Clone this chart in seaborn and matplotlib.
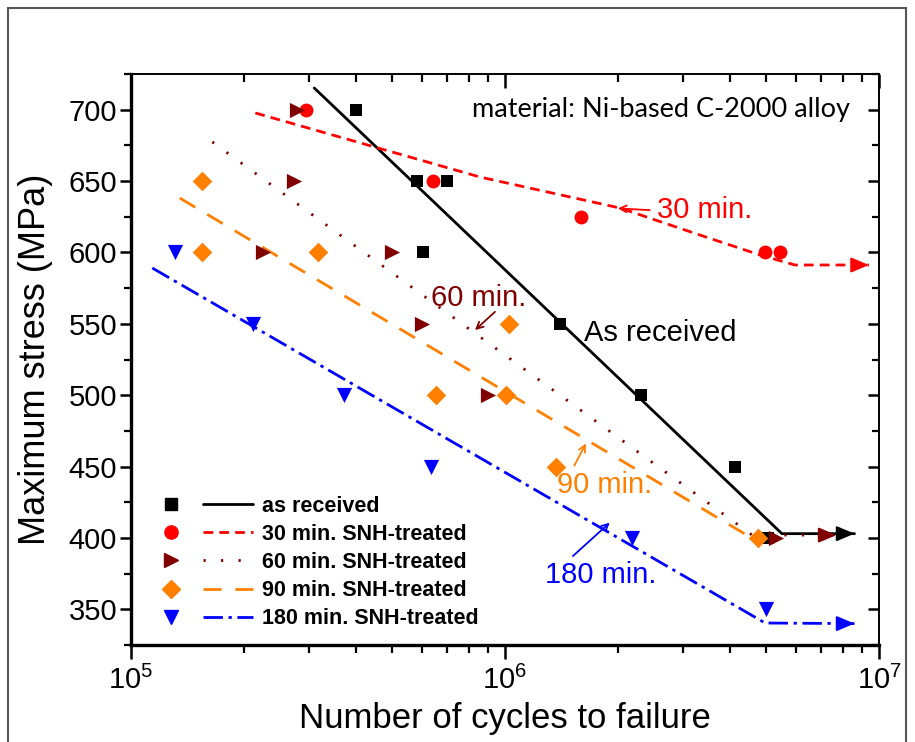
import matplotlib
matplotlib.use("Agg")
import matplotlib.pyplot as plt
from matplotlib.lines import Line2D
from matplotlib.legend_handler import HandlerBase
from matplotlib.patches import Rectangle
from matplotlib.ticker import MultipleLocator, LogLocator, NullFormatter
import seaborn as sns

# ---- fatigue test results (cycles to failure, maximum stress in MPa) ----
asr_n = [4.00e5, 5.82e5, 7.00e5, 6.04e5, 1.40e6, 2.31e6, 4.12e6, 5.05e6]
asr_s = [700, 650, 650, 600, 550, 500, 450, 400]

m30_n = [2.94e5, 6.41e5, 1.60e6, 4.96e6, 5.44e6]
m30_s = [700, 650, 625, 600, 600]

m60_n = [2.78e5, 2.73e5, 2.25e5, 4.99e5, 6.00e5, 9.00e5, 5.30e6]
m60_s = [700, 650, 600, 600, 550, 500, 400]

m90_n = [1.55e5, 1.55e5, 3.16e5, 1.025e6, 6.54e5, 1.006e6, 1.37e6, 4.75e6]
m90_s = [650, 600, 600, 550, 500, 500, 450, 400]

m180_n = [1.31e5, 2.12e5, 3.71e5, 6.34e5, 2.19e6, 4.99e6]
m180_s = [600, 550, 500, 450, 400, 350]

# ---- S-N trend curves (knee followed by run-out plateau) ----
fit_asr_n = [3.09e5, 5.50e6, 8.60e6]
fit_asr_s = [715.2, 403.0, 403.0]
fit30_n = [2.15e5, 8.58e5, 2.03e6, 3.32e6, 4.81e6, 5.96e6, 9.40e6]
fit30_s = [697.7, 652.8, 631.1, 612.2, 598.2, 591.2, 591.2]
fit60_n = [1.65e5, 4.58e6, 7.70e6]
fit60_s = [677.4, 402.0, 402.0]
fit90_n = [1.35e5, 4.47e6, 5.10e6]
fit90_s = [638.1, 401.4, 401.4]
fit180_n = [1.14e5, 4.96e6, 8.60e6]
fit180_s = [589.1, 340.4, 340.0]

labels = ["as received", "30 min. SNH-treated", "60 min. SNH-treated",
          "90 min. SNH-treated", "180 min. SNH-treated"]

BLACK, RED, MAROON, ORANGE, BLUE = "#000000", "#ff0000", "#800000", "#ff8000", "#0000ff"

sns.set_theme(style="white")
plt.rcParams["font.family"] = ["Liberation Sans", "DejaVu Sans"]
plt.rcParams.update({
    "text.color": "black", "axes.labelcolor": "black",
    "xtick.color": "black", "ytick.color": "black",
    "mathtext.fontset": "custom", "mathtext.rm": "Liberation Sans",
    "mathtext.it": "Liberation Sans",
})

fig = plt.figure(figsize=(9.15, 7.42), dpi=100)
fig.patch.set_facecolor("white")
ax = fig.add_axes([131 / 915, 1 - 645 / 742, 748 / 915, 571 / 742])
ax.set_xscale("log")

series = [
    (asr_n, asr_s, fit_asr_n, fit_asr_s, BLACK, "s", 85, "-", True),
    (m30_n, m30_s, fit30_n, fit30_s, RED, "o", 100, (0, (3.5, 2.2)), True),
    (m60_n, m60_s, fit60_n, fit60_s, MAROON, ">", 120, (0, (0.8, 5.5)), True),
    (m90_n, m90_s, fit90_n, fit90_s, ORANGE, "D", 100, (0, (6.5, 5.0)), False),
    (m180_n, m180_s, fit180_n, fit180_s, BLUE, "v", 120, (0, (7.0, 2.0, 1.2, 2.0)), True),
]
legend_ms = {"s": 8.5, "o": 9.5, ">": 10, "D": 9.5, "v": 10}

handles = []
for (n, s, fn, fs, col, mk, size, ls, arrow), lab in zip(series, labels):
    sns.lineplot(x=fn, y=fs, ax=ax, color=col, linewidth=2.0, linestyle=ls,
                 sort=False, estimator=None, zorder=2)
    sns.scatterplot(x=n, y=s, ax=ax, color=col, marker=mk, s=size,
                    linewidth=0, zorder=3)
    if arrow:
        ax.annotate("", xy=(fn[-1], fs[-1]), xytext=(fn[-1] / 1.06, fs[-1]),
                    arrowprops=dict(arrowstyle="-|>,head_length=0.9,head_width=0.38",
                                    color=col, lw=1.5, shrinkA=0, shrinkB=0),
                    zorder=4)
    handles.append(dict(color=col, marker=mk, ms=legend_ms[mk], ls=ls))


class MarkerThenLine(HandlerBase):
    """Legend entry showing the symbol first, then a short line sample."""

    def create_artists(self, legend, orig_handle, xdescent, ydescent,
                       width, height, fontsize, trans):
        spec = orig_handle.spec
        y = height / 2 - ydescent
        m = Line2D([-xdescent + 0.16 * width], [y], color=spec["color"],
                   marker=spec["marker"], markersize=spec["ms"],
                   linestyle="none", transform=trans)
        ln = Line2D([-xdescent + 0.49 * width, width - xdescent], [y, y],
                    color=spec["color"], linestyle=spec["ls"],
                    linewidth=2.0, transform=trans)
        return [m, ln]


class LegendEntry:
    def __init__(self, spec):
        self.spec = spec


entries = [LegendEntry(h) for h in handles]
leg = ax.legend(entries, labels, handler_map={LegendEntry: MarkerThenLine()},
                loc="center left", bbox_to_anchor=(0.032, 0.1445),
                frameon=False, handlelength=4.55, handletextpad=0.42,
                labelspacing=0.33, borderpad=0.0, borderaxespad=0.0,
                prop={"family": "Liberation Sans", "weight": "bold", "size": 15.5})

# curve annotations
txt = dict(fontsize=21, family="Liberation Sans", va="center", ha="left")
ax.text(2.55e6, 630, "30 min.", color=RED, **txt)
ax.annotate("", xy=(1.97e6, 631), xytext=(2.48e6, 629.5),
            arrowprops=dict(arrowstyle="->", color=RED, lw=1.3))
ax.text(6.35e5, 568, "60 min.", color=MAROON, **txt)
ax.annotate("", xy=(8.21e5, 544.3), xytext=(9.52e5, 559.7),
            arrowprops=dict(arrowstyle="->", color=MAROON, lw=1.3))
ax.text(1.38e6, 437, "90 min.", color=ORANGE, **txt)
ax.annotate("", xy=(1.66e6, 467.9), xytext=(1.52e6, 449),
            arrowprops=dict(arrowstyle="->", color=ORANGE, lw=1.3))
ax.text(1.28e6, 374, "180 min.", color=BLUE, **txt)
ax.annotate("", xy=(1.93e6, 412), xytext=(1.50e6, 386),
            arrowprops=dict(arrowstyle="->", color=BLUE, lw=1.3))
ax.text(1.63e6, 543.6, "As received", color=BLACK, fontsize=21,
        family="Liberation Sans", va="center", ha="left")
ax.text(0.456, 0.938, "material: Ni-based C-2000 alloy", transform=ax.transAxes,
        fontsize=19.5, family=["Lato", "DejaVu Sans"], va="center", ha="left")

# axes, ticks and frame
ax.set_xlim(1e5, 1e7)
ax.set_ylim(325, 725)
ax.set_yticks([350, 400, 450, 500, 550, 600, 650, 700])
ax.yaxis.set_minor_locator(MultipleLocator(25))
ax.xaxis.set_major_locator(LogLocator(base=10, numticks=10))
ax.xaxis.set_minor_locator(LogLocator(base=10, subs=range(2, 10), numticks=20))
ax.xaxis.set_minor_formatter(NullFormatter())

ax.tick_params(axis="both", which="major", labelsize=21, width=1.8)
ax.tick_params(axis="x", which="major", direction="out", length=10, pad=5)
ax.tick_params(axis="x", which="minor", direction="out", length=6, width=1.6)
ax.tick_params(axis="y", which="major", direction="out", length=8, pad=2)
ax.tick_params(axis="y", which="minor", direction="out", length=5, width=1.6)
ax.tick_params(axis="x", which="both", bottom=True, top=True, labeltop=False)
ax.tick_params(axis="y", which="both", left=True, right=True, labelright=False)

# ticks on the top and right frame point inwards
for t in ax.xaxis.get_major_ticks() + ax.xaxis.get_minor_ticks():
    t.tick2line.set_marker(3)
for t in ax.yaxis.get_major_ticks() + ax.yaxis.get_minor_ticks():
    t.tick2line.set_marker(0)

for side in ["left", "bottom"]:
    ax.spines[side].set_linewidth(2.4)
    ax.spines[side].set_color("black")
for side in ["top", "right"]:
    ax.spines[side].set_linewidth(1.4)
    ax.spines[side].set_color("black")

ax.set_xlabel("Number of cycles to failure", fontsize=25)
ax.set_ylabel("Maximum stress (MPa)", fontsize=26)
ax.xaxis.set_label_coords(0.5, -0.1)
ax.yaxis.set_label_coords(-0.104, 0.5)

# thin border around the whole picture
fig.patches.append(Rectangle((8 / 915, -0.02), 898 / 915, 1.02 - 8 / 742,
                             transform=fig.transFigure, fill=False,
                             edgecolor="#555555", linewidth=1.5))

fig.savefig("out.png", dpi=100, facecolor="white")
